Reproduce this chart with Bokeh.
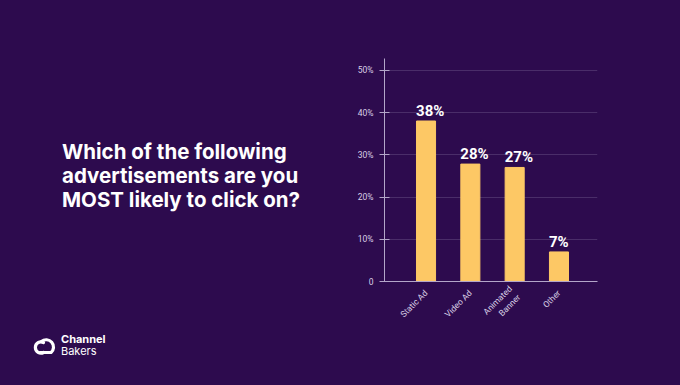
from bokeh.plotting import figure
from bokeh.layouts import row
from bokeh.models import Range1d, FixedTicker, ColumnDataSource, Div
from bokeh.embed import file_html
from bokeh.resources import INLINE
from bokeh.core.properties import value
import math

# ---- data ----
categories = ["Static Ad", "Video Ad", "Animated\nBanner", "Other"]
shares = [38, 27.8, 27, 7]
share_labels = ["38%", "28%", "27%", "7%"]
y_ticks = [0, 10, 20, 30, 40, 50]
y_tick_labels = ["0", "10%", "20%", "30%", "40%", "50%"]
title_lines = ["Which of the following", "advertisements are you", "MOST likely to click on?"]
brand_lines = ["Channel", "Bakers"]

BG = "#2d0b4e"
BAR = "#fdc865"
AXIS = "#b3a6c9"
GRID = "#4a2d69"
TICKTXT = "#d9d0e6"

W_LEFT = 340
W_RIGHT = 340
H = 385

# ---- left panel: question + brand (HTML text) ----
title_html = "<br>".join(title_lines)
icon_svg = (
    '<svg width="30" height="24" viewBox="0 0 30 24" style="position:absolute;left:31px;top:333px;">'
    '<path d="M12.5 9.5 A5.6 5.6 0 1 0 12.5 19.5" fill="none" stroke="white" stroke-width="3.2" stroke-linecap="round"/>'
    '<path d="M10.5 8.5 A6.8 6.8 0 1 1 20 19.5 L9 19.5" fill="none" stroke="white" stroke-width="3.2" stroke-linecap="round" stroke-linejoin="round"/>'
    '</svg>'
)
left_html = (
    f'<div style="position:relative;width:{W_LEFT}px;height:{H}px;background:{BG};overflow:hidden;">'
    f'<div style="position:absolute;left:62px;top:139.5px;color:white;font-family:Inter;font-weight:700;'
    f'font-size:20.5px;line-height:24px;white-space:nowrap;">{title_html}</div>'
    f'{icon_svg}'
    f'<div style="position:absolute;left:61px;top:332.5px;color:white;font-family:Inter;font-size:11px;'
    f'line-height:12.5px;white-space:nowrap;"><span style="font-weight:700;">{brand_lines[0]}</span><br>'
    f'<span>{brand_lines[1]}</span></div>'
    '</div>'
)
left = Div(text=left_html, width=W_LEFT, height=H, margin=0,
           styles={"background-color": BG})

# ---- right panel: bar chart ----
positions = list(range(len(categories)))
src = ColumnDataSource(dict(x=positions, top=shares, lab=share_labels))

p = figure(width=W_RIGHT, height=H, output_backend="svg", toolbar_location=None,
           x_range=Range1d(-0.937, 3.869), y_range=Range1d(0, 52.8),
           min_border_left=384 - W_LEFT, min_border_right=W_LEFT + W_RIGHT - 597,
           min_border_top=58, min_border_bottom=H - 281, margin=0,
           styles={"background-color": BG})
p.background_fill_color = None
p.border_fill_color = None
p.outline_line_color = None

p.vbar(x="x", top="top", width=0.43, source=src, color=BAR)
p.text(x="x", y="top", text="lab", source=src, x_offset=-10, y_offset=-10,
       text_align="left", text_baseline="alphabetic", text_color="white",
       text_font=value("Roboto"), text_font_style="bold", text_font_size="15px")

ya = p.yaxis[0]
ya.ticker = FixedTicker(ticks=y_ticks)
ya.major_label_overrides = {t: l for t, l in zip(y_ticks, y_tick_labels)}
ya.axis_line_color = AXIS
ya.major_tick_line_color = AXIS
ya.major_tick_in = 5
ya.major_tick_out = 5
ya.minor_tick_line_color = None
ya.major_label_text_color = TICKTXT
ya.major_label_text_font = "Roboto"
ya.major_label_text_font_size = "8.5px"
ya.major_label_standoff = 6

xa = p.xaxis[0]
xa.ticker = FixedTicker(ticks=positions)
xa.major_label_overrides = {i: c for i, c in zip(positions, categories)}
xa.axis_line_color = AXIS
xa.major_tick_line_color = None
xa.minor_tick_line_color = None
xa.major_label_orientation = math.pi / 4
xa.major_label_text_color = TICKTXT
xa.major_label_text_font = "Roboto"
xa.major_label_text_font_size = "8.5px"
xa.major_label_standoff = 4

p.xgrid.grid_line_color = None
p.ygrid.ticker = FixedTicker(ticks=y_ticks[1:])
p.ygrid.grid_line_color = GRID

layout = row(left, p, spacing=0)
open("out.html", "w").write(file_html(layout, INLINE))
